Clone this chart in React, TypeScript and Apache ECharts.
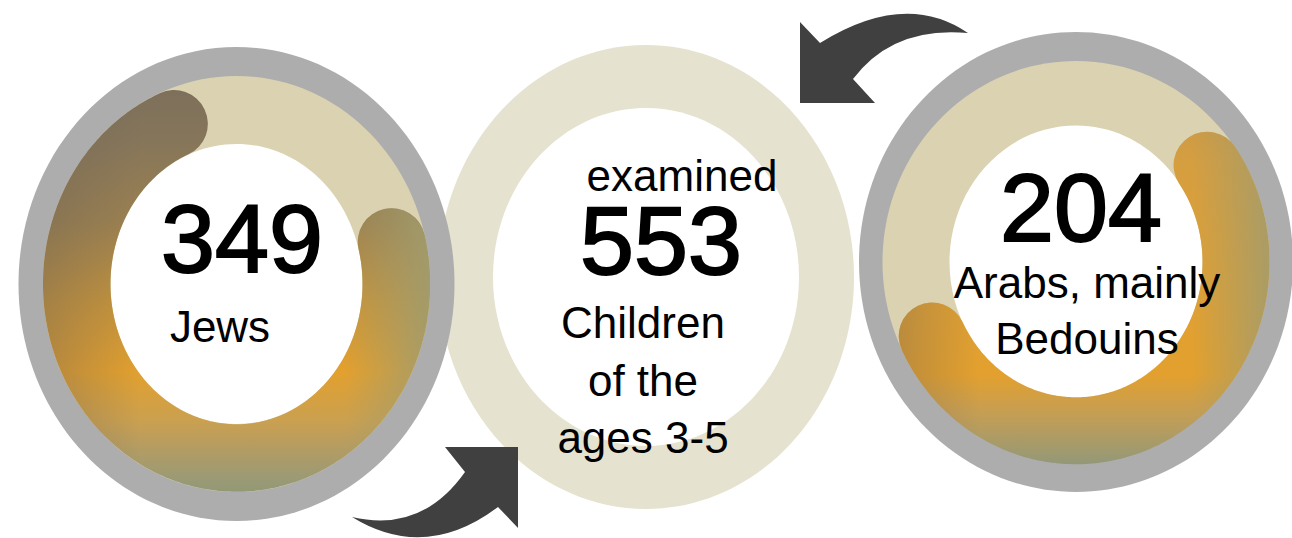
import React, { useEffect, useRef } from "react";
import * as echarts from "echarts";

// ---------- data ----------
const groupNames = ["Jews", "Arabs, mainly\nBedouins"];
const groupCounts = [349, 204];
const totalCount = 553;
const totalTopLabel = "examined";
const totalBottomLabel = "Children\nof the\nages 3-5";
// extent of each progress arc (degrees, counter-clockwise from 3 o'clock)
const arcStartDeg = [113, 206];
const arcEndDeg = [374, 395];

// ---------- layout / style ----------
const W = 1292;
const H = 538;
const GRAY = "#adadad";
const BAND = "#dad2b1";
const MID_RING = "#e6e2d0";
const ARROW = "#404040";
const FONT = "'Liberation Sans', Arial, sans-serif";

const SIDE_LAYOUT = [
  {
    cx: 236.5, cy: 284, outer: [436, 474], band: [387, 416], inner: [252, 280],
    num: [242, 238], label: [220, 326], lineH: 56, rightAlpha: 0.92, rightStart: 0.78,
    vStops: [
      [0, "#7b6e5a"], [0.15, "#85755a"], [0.35, "#9c8150"], [0.55, "#c8953a"],
      [0.71, "#e3a02e"], [0.83, "#caa050"], [0.9, "#b29c64"], [0.97, "#9a9a75"], [1, "#939875"],
    ],
  },
  {
    cx: 1076, cy: 262, outer: [434, 460], band: [387, 402], inner: [253, 273],
    num: [1081, 207.5], label: [1087, 282], lineH: 56, rightAlpha: 0.85, rightStart: 0.8,
    vStops: [
      [0, "#c09250"], [0.25, "#d59e40"], [0.5, "#dea036"], [0.78, "#e3a02e"],
      [0.88, "#c49e55"], [0.95, "#a89b68"], [1, "#949878"],
    ],
  },
];
const MID_LAYOUT = {
  cx: 646, cy: 277, outer: [416, 464], inner: [306, 338],
  top: [682, 175], num: [661, 240], label: [643, 322.5], lineH: 57.5,
};

const TOP_ARROW = "M800,22 L800,103 L875,103 L853,79 Q893,26 968,33 Q905,-10 820,43 Z";
const BOTTOM_ARROW = "M445,447 L518,447 L518,528 L498,507 Q425,562 352,517 Q421.5,533.5 465,472 Z";
const ARROWS = [TOP_ARROW, BOTTOM_ARROW];

function textEl(x: number, y: number, text: string, size: number, isNum = false) {
  return {
    type: "text",
    x,
    y,
    style: {
      text,
      fill: "#000",
      stroke: isNum ? "#000" : null,
      lineWidth: isNum ? 2 : 0,
      fontSize: size,
      fontFamily: FONT,
      lineHeight: isNum ? 74 : 44,
      align: "center",
      verticalAlign: "middle",
    },
  };
}

export default function App() {
  const ref = useRef<HTMLDivElement>(null);

  useEffect(() => {
    document.body.style.margin = "0";
    const chart = echarts.init(ref.current!, null, { renderer: "svg" });

    const sideRender = (params: any, api: any) => {
      const i = params.dataIndex;
      const L = SIDE_LAYOUT[i];
      const c = api.coord([L.cx, L.cy]);
      const o = api.size(L.outer);
      const b = api.size(L.band);
      const n = api.size(L.inner);
      const midRx = (b[0] + n[0]) / 4;
      const midRy = (b[1] + n[1]) / 4;
      const width = (b[0] - n[0]) / 2;
      const pts: number[][] = [];
      const a0 = arcStartDeg[i];
      const a1 = arcEndDeg[i];
      for (let a = a0; a <= a1 + 0.001; a += 1) {
        const t = (a * Math.PI) / 180;
        pts.push([c[0] + midRx * Math.cos(t), c[1] - midRy * Math.sin(t)]);
      }
      const yTop = c[1] - b[1] / 2;
      const yBot = c[1] + b[1] / 2;
      const xL = c[0] - b[0] / 2;
      const xR = c[0] + b[0] / 2;
      const vGrad = new echarts.graphic.LinearGradient(
        0, yTop, 0, yBot,
        L.vStops.map(([offset, color]) => ({ offset, color })),
        true
      );
      const hGrad = new echarts.graphic.LinearGradient(
        xL, 0, xR, 0,
        [
          { offset: 0, color: "rgba(105,96,88,0.38)" },
          { offset: 0.25, color: "rgba(105,96,88,0)" },
          { offset: L.rightStart, color: "rgba(162,156,108,0)" },
          { offset: 1, color: `rgba(160,156,110,${L.rightAlpha})` },
        ],
        true
      );
      const num = api.coord(L.num);
      const lab = api.coord(L.label);
      const lines = groupNames[i].split("\n");
      return {
        type: "group",
        children: [
          { type: "ellipse", shape: { cx: c[0], cy: c[1], rx: o[0] / 2, ry: o[1] / 2 }, style: { fill: GRAY } },
          { type: "ellipse", shape: { cx: c[0], cy: c[1], rx: b[0] / 2, ry: b[1] / 2 }, style: { fill: BAND } },
          { type: "ellipse", shape: { cx: c[0], cy: c[1], rx: n[0] / 2, ry: n[1] / 2 }, style: { fill: "#fff" } },
          {
            type: "polyline",
            shape: { points: pts },
            style: { fill: null, stroke: vGrad, lineWidth: width, lineCap: "round", lineJoin: "round" },
          },
          {
            type: "polyline",
            shape: { points: pts },
            style: { fill: null, stroke: hGrad, lineWidth: width, lineCap: "round", lineJoin: "round" },
          },
          textEl(num[0], num[1], String(api.value(1)), 97, true),
          ...lines.map((ln, k) => textEl(lab[0], lab[1] + k * L.lineH, ln, 44)),
        ],
      };
    };

    const midRender = (_params: any, api: any) => {
      const L = MID_LAYOUT;
      const c = api.coord([L.cx, L.cy]);
      const o = api.size(L.outer);
      const n = api.size(L.inner);
      const top = api.coord(L.top);
      const num = api.coord(L.num);
      const lab = api.coord(L.label);
      const lines = totalBottomLabel.split("\n");
      return {
        type: "group",
        children: [
          { type: "ellipse", shape: { cx: c[0], cy: c[1], rx: o[0] / 2, ry: o[1] / 2 }, style: { fill: MID_RING } },
          { type: "ellipse", shape: { cx: c[0], cy: c[1], rx: n[0] / 2, ry: n[1] / 2 }, style: { fill: "#fff" } },
          textEl(top[0], top[1], totalTopLabel, 44),
          textEl(num[0], num[1], String(api.value(1)), 97, true),
          ...lines.map((ln, k) => textEl(lab[0], lab[1] + k * L.lineH, ln, 44)),
        ],
      };
    };

    const arrowRender = (params: any, api: any) => {
      const p0 = api.coord([0, 0]);
      return {
        type: "path",
        x: p0[0],
        y: p0[1],
        shape: { pathData: ARROWS[params.dataIndex] },
        style: { fill: ARROW, stroke: null },
      };
    };

    chart.setOption({
      animation: false,
      grid: { left: 0, right: 0, top: 0, bottom: 0 },
      xAxis: { type: "value", min: 0, max: W, show: false },
      yAxis: { type: "value", min: 0, max: H, inverse: true, show: false },
      tooltip: { show: false },
      series: [
        {
          type: "custom",
          name: "total",
          renderItem: midRender,
          data: [[0, totalCount]],
          silent: true,
        },
        {
          type: "custom",
          name: "groups",
          renderItem: sideRender,
          data: groupCounts.map((v, i) => ({ name: groupNames[i], value: [i, v] })),
          silent: true,
        },
        {
          type: "custom",
          name: "arrows",
          renderItem: arrowRender,
          data: ARROWS.map((_, i) => [i, 0]),
          silent: true,
        },
      ],
    });

    return () => chart.dispose();
  }, []);

  return <div ref={ref} style={{ width: W, height: H }} />;
}
